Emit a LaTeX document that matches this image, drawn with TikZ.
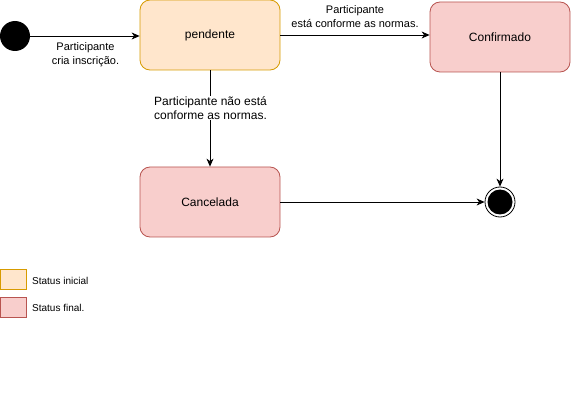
\documentclass[tikz,border=0pt]{standalone}
\usepackage{fontspec}
\setmainfont{Liberation Sans}
\usetikzlibrary{arrows.meta}
\definecolor{orfill}{HTML}{FFE6CC}
\definecolor{ordraw}{HTML}{D79B00}
\definecolor{rdfill}{HTML}{F8CECC}
\definecolor{rddraw}{HTML}{B85450}
\tikzset{
  state/.style={draw, rounded corners=10pt, minimum width=140pt, minimum height=70pt, inner sep=0pt, font=\fontsize{12}{14}\selectfont, line width=0.8pt},
  initstate/.style={state, fill=orfill, draw=ordraw},
  finstate/.style={state, fill=rdfill, draw=rddraw},
  lbl/.style={font=\fontsize{11}{14}\selectfont, align=center, inner sep=1pt},
  conn/.style={-{Stealth[length=8pt,width=7pt,inset=2.5pt]}, line width=0.8pt},
  legbox/.style={draw, minimum width=26pt, minimum height=20pt, inner sep=0pt, line width=0.8pt},
  legtxt/.style={font=\fontsize{10}{12}\selectfont, anchor=west, inner sep=0pt}
}
\begin{document}
\begin{tikzpicture}[x=1pt,y=-1pt]
\useasboundingbox (0,0) rectangle (571,401);
\node[circle, fill=black, minimum size=30pt, inner sep=0pt] (start) at (15,36) {};
\node[initstate] (pend) at (210,35) {pendente};
\node[finstate] (conf) at (500,37) {Confirmado};
\node[finstate] (canc) at (210,202) {Cancelada};
\node[circle, draw=black, line width=0.8pt, minimum size=30pt, inner sep=0pt] (end) at (500,202) {};
\node[circle, fill=black, minimum size=25pt, inner sep=0pt] (endin) at (500,202) {};
\draw[conn] (start.east) -- (pend.west |- start.east);
\draw[conn] (pend.east) -- (pend.east -| conf.west);
\draw[conn] (pend.south) -- (canc.north);
\draw[conn] (conf.south) -- (end.north);
\draw[conn] (canc.east) -- (end.west);
\node[lbl] (l1) at (85.5,55) {Participante\\cria inscrição.};
\node[lbl] (l2) at (355,16.5) {Participante\\está conforme as normas.};
\node[lbl, fill=white, font=\fontsize{12}{14}\selectfont] (l3) at (210.5,108) {Participante não está\\conforme as normas.};
\node[legbox, fill=orfill, draw=ordraw] (lg1) at (13,279) {};
\node[legtxt] (lt1) at (32,281) {Status inicial};
\node[legbox, fill=rdfill, draw=rddraw] (lg2) at (13,307) {};
\node[legtxt] (lt2) at (32,308) {Status final.};
\end{tikzpicture}
\end{document}
